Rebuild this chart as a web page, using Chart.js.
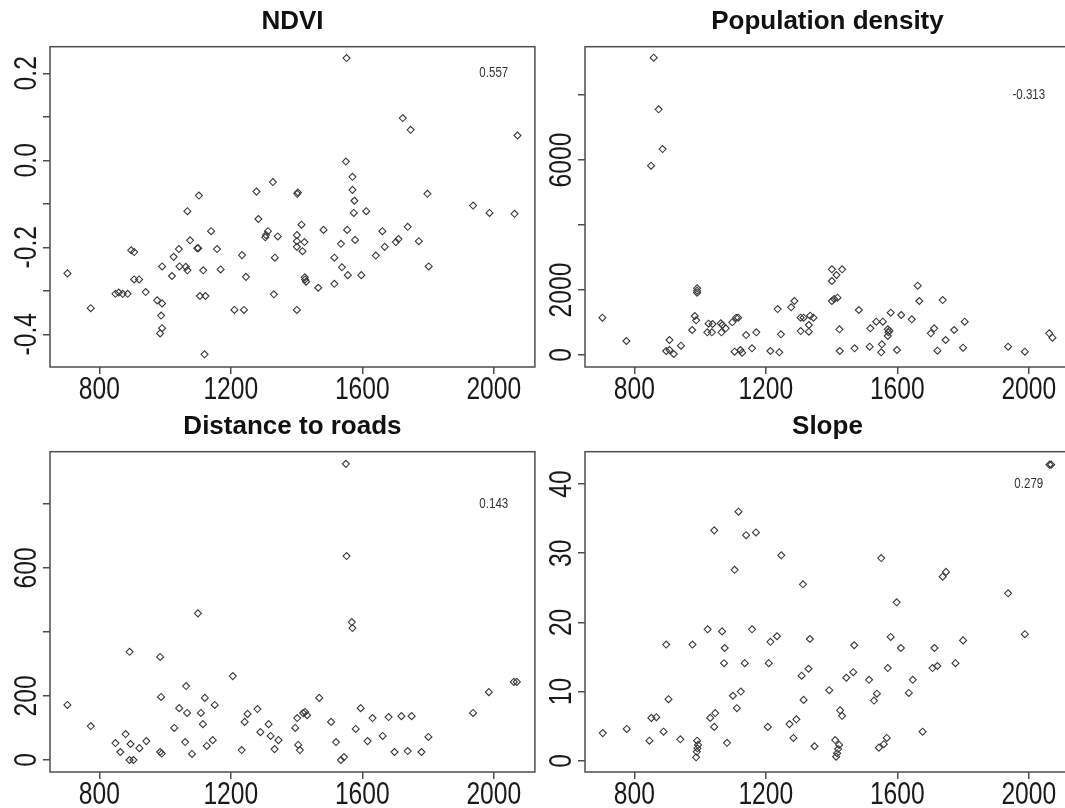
<!DOCTYPE html>
<html lang="en">
<head>
<meta charset="UTF-8">
<title>Elevation vs. site covariates</title>
<script src="https://cdn.jsdelivr.net/npm/chart.js@4"></script>
<style>
  body { margin: 0; background: #fff; }
  #wrap { position: relative; width: 1065px; height: 808px; overflow: hidden; background: #fff; }
  .panel { position: absolute; width: 540px; height: 404px; }
</style>
</head>
<body>
<div id="wrap">
  <canvas id="ndvi" class="panel" width="540" height="404" style="left:0;top:0"></canvas>
  <canvas id="pop" class="panel" width="540" height="404" style="left:535px;top:0"></canvas>
  <canvas id="dist" class="panel" width="540" height="404" style="left:0;top:405px"></canvas>
  <canvas id="slope" class="panel" width="540" height="404" style="left:535px;top:405px"></canvas>
</div>
<script>
// elevation axis shared by all four panels
const xTicks = [800, 1200, 1600, 2000];
const xMin = 650, xMax = 2125;

// NDVI
const ndviX = [703,774,849,859,871,886,897,906,906,921,941,976,991,988,991,985,991,1021,1026,1042,1044,1063,1068,1068,1076,1098,1101,1103,1140,1158,1116,1169,1106,1123,1120,1211,1240,1234,1246,1278,1284,1328,1313,1307,1305,1343,1334,1331,1402,1404,1415,1401,1401,1424,1401,1418,1425,1429,1426,1482,1466,1401,1515,1538,1515,1535,1554,1578,1552,1550,1570,1570,1576,1574,1556,1597,1612,1661,1641,1668,1702,1710,1738,1723,1747,1772,1798,1802,1937,1987,2063,2072];
const ndviY = [-0.26,-0.34,-0.307,-0.304,-0.307,-0.307,-0.207,-0.211,-0.274,-0.274,-0.303,-0.322,-0.329,-0.357,-0.386,-0.398,-0.244,-0.266,-0.222,-0.204,-0.244,-0.245,-0.253,-0.117,-0.184,-0.202,-0.202,-0.081,-0.163,-0.204,-0.253,-0.251,-0.312,-0.312,-0.446,-0.344,-0.344,-0.218,-0.268,-0.072,-0.135,-0.050,-0.163,-0.172,-0.177,-0.175,-0.224,-0.308,-0.077,-0.074,-0.148,-0.172,-0.186,-0.188,-0.199,-0.209,-0.269,-0.279,-0.274,-0.160,-0.293,-0.344,-0.224,-0.246,-0.284,-0.192,-0.160,-0.183,0.235,-0.003,-0.038,-0.068,-0.093,-0.121,-0.264,-0.264,-0.117,-0.163,-0.219,-0.199,-0.188,-0.181,-0.153,0.097,0.070,-0.186,-0.077,-0.244,-0.104,-0.121,-0.123,0.057];
const ndviTicks = [-0.4, -0.3, -0.2, -0.1, 0, 0.1, 0.2];
const ndviLabels = [-0.4, -0.2, 0, 0.2];
const ndviR = '0.557';

// Population density
const popX = [859,874,886,851,703,776,991,991,991,984,988,976,1026,1038,1022,1036,907,897,907,920,942,1063,1065,1078,1068,1098,1110,1116,1105,1123,1128,1140,1158,1171,1214,1241,1236,1246,1277,1287,1306,1315,1306,1331,1331,1335,1345,1401,1415,1432,1401,1401,1408,1418,1424,1425,1470,1483,1518,1516,1536,1556,1571,1573,1576,1571,1553,1551,1599,1580,1612,1644,1662,1667,1702,1712,1722,1738,1747,1773,1805,1800,1937,1988,2062,2072];
const popY = [9148,7560,6338,5825,1148,431,2052,1978,1917,1200,1068,769,963,954,698,698,462,123,154,31,287,975,698,821,923,1006,1148,1148,102,154,72,615,205,698,123,82,1415,636,1467,1662,1148,1148,738,923,718,1210,1148,2636,2462,2636,2277,1662,1723,1764,790,123,205,1385,821,256,1026,1026,790,698,749,585,328,82,154,1302,1231,1098,2133,1662,667,821,133,1692,462,769,1026,226,256,102,667,533];
const popTicks = [0, 2000, 4000, 6000, 8000];
const popLabels = [0, 2000, 6000];
const popR = '-0.313';

// Distance to roads
const distX = [703,774,849,864,880,892,904,895,922,943,892,985,988,985,990,1028,1043,1064,1067,1061,1082,1100,1109,1121,1115,1127,1145,1151,1206,1242,1251,1233,1281,1290,1315,1321,1333,1345,1396,1402,1405,1410,1420,1426,1432,1469,1505,1520,1535,1544,1550,1552,1568,1570,1580,1595,1616,1631,1662,1680,1698,1719,1738,1750,1780,1801,1937,1985,2061,2070];
const distY = [172,106,53,25,81,0,0,50,37,59,338,322,197,25,20,100,162,231,147,56,19,458,147,194,112,44,62,172,262,119,144,31,159,87,112,75,34,62,100,131,47,31,147,150,140,194,119,56,0,9,925,637,431,412,97,162,59,131,75,134,25,137,28,137,25,72,147,212,244,244];
const distTicks = [0, 200, 400, 600, 800];
const distLabels = [0, 200, 600];
const distR = '0.143';

// Slope
const slopeX = [704,777,852,867,846,897,889,904,940,988,990,992,994,991,977,1023,1031,1046,1043,1043,1067,1073,1075,1082,1100,1105,1112,1117,1124,1140,1170,1136,1158,1214,1234,1206,1209,1247,1272,1284,1293,1309,1315,1313,1330,1334,1348,1393,1411,1414,1417,1420,1423,1426,1432,1445,1466,1469,1514,1529,1538,1544,1551,1559,1568,1571,1580,1598,1611,1635,1647,1677,1713,1707,1722,1738,1748,1777,1800,1937,1988,2063,2068];
const slopeY = [4.0,4.6,6.2,6.3,2.9,16.8,4.2,8.9,3.1,0.5,1.3,1.8,2.3,2.9,16.8,19.0,6.2,6.9,4.9,33.3,18.7,14.1,16.3,2.6,9.4,27.6,7.6,36.0,10.0,32.6,33.0,14.1,19.0,17.2,18.0,4.9,14.1,29.7,5.3,3.3,6.0,12.3,8.8,25.5,13.3,17.6,2.1,10.2,3.0,0.6,1.1,1.7,2.3,7.3,6.5,12.0,12.8,16.7,11.7,8.7,9.7,1.9,29.3,2.4,3.3,13.4,17.9,22.9,16.3,9.8,11.7,4.2,16.3,13.4,13.7,26.6,27.3,14.1,17.4,24.2,18.3,42.8,42.8];
const slopeTicks = [0, 10, 20, 30, 40];
const slopeLabels = [0, 10, 20, 30, 40];
const slopeR = '0.279';

const tickFont = "'Liberation Sans', Arial, sans-serif";
const axisColor = '#4d4d4d';
const narrow = 0.77;   // condensed look of the axis numbers

function condensedText(ctx, text, x, y, angle) {
    ctx.save();
    ctx.translate(x, y);
    ctx.rotate(angle);
    ctx.scale(narrow, 1);
    ctx.fillText(text, 0, 0);
    ctx.restore();
}

// box around the plot region, axis numbers, and r in the corner
const frame = {
    id: 'frame',
    afterDraw(chart, args, opts) {
        const { ctx, chartArea: a, scales } = chart;
        ctx.save();
        ctx.strokeStyle = axisColor;
        ctx.lineWidth = 1.5;
        ctx.strokeRect(a.left, a.top, a.right - a.left, a.bottom - a.top);

        ctx.fillStyle = '#1a1a1a';
        ctx.font = '32px ' + tickFont;
        ctx.textAlign = 'center';
        ctx.textBaseline = 'alphabetic';
        opts.labels.forEach(v => {
            condensedText(ctx, opts.format(v), a.left - 14, scales.y.getPixelForValue(v), -Math.PI / 2);
        });
        xTicks.forEach(v => {
            condensedText(ctx, String(v), scales.x.getPixelForValue(v), a.bottom + 32, 0);
        });

        ctx.fillStyle = '#333';
        ctx.font = '15px ' + tickFont;
        ctx.textBaseline = 'middle';
        condensedText(ctx, opts.r, scales.x.getPixelForValue(2000), scales.y.getPixelForValue(opts.rAt), 0);
        ctx.restore();
    }
};

function makePanel(id, title, xs, ys, yMin, yMax, yTicks, yLabels, r, format) {
    const points = xs.map((x, i) => ({ x: x, y: ys[i] }));
    return new Chart(document.getElementById(id), {
        type: 'scatter',
        data: {
            datasets: [{
                data: points,
                pointStyle: 'rectRot',
                radius: 3.5,
                borderWidth: 1.1,
                borderColor: '#3a3a3a',
                backgroundColor: 'rgba(0,0,0,0)'
            }]
        },
        options: {
            responsive: false,
            animation: false,
            layout: { padding: { left: 0, right: 2, top: 0, bottom: 0 } },
            plugins: {
                legend: { display: false },
                tooltip: { enabled: false },
                title: {
                    display: true,
                    text: title,
                    fullSize: false,
                    color: '#111',
                    font: { family: "'Liberation Sans', Arial, sans-serif", size: 26, weight: 'bold' },
                    padding: { top: 6.5, bottom: 9 }
                },
                frame: { labels: yLabels, format: format, r: r, rAt: yTicks[yTicks.length - 1] }
            },
            scales: {
                x: {
                    type: 'linear',
                    min: xMin,
                    max: xMax,
                    afterBuildTicks: s => { s.ticks = xTicks.map(v => ({ value: v })); },
                    afterFit: s => { s.height = 37; },
                    border: { display: false },
                    grid: { drawOnChartArea: false, tickLength: 7, color: axisColor, lineWidth: 1.5 },
                    ticks: { display: false }
                },
                y: {
                    type: 'linear',
                    min: yMin,
                    max: yMax,
                    afterBuildTicks: s => { s.ticks = yTicks.map(v => ({ value: v })); },
                    afterFit: s => { s.width = 50; },
                    border: { display: false },
                    grid: { drawOnChartArea: false, tickLength: 7, color: axisColor, lineWidth: 1.5 },
                    ticks: { display: false }
                }
            }
        },
        plugins: [frame]
    });
}

makePanel('ndvi', 'NDVI', ndviX, ndviY, -0.4752, 0.2611, ndviTicks, ndviLabels, ndviR, v => v.toFixed(1));
makePanel('pop', 'Population density', popX, popY, -369, 9486, popTicks, popLabels, popR, v => String(v));
makePanel('dist', 'Distance to roads', distX, distY, -37.5, 963, distTicks, distLabels, distR, v => String(v));
makePanel('slope', 'Slope', slopeX, slopeY, -1.62, 44.67, slopeTicks, slopeLabels, slopeR, v => String(v));
</script>
</body>
</html>
